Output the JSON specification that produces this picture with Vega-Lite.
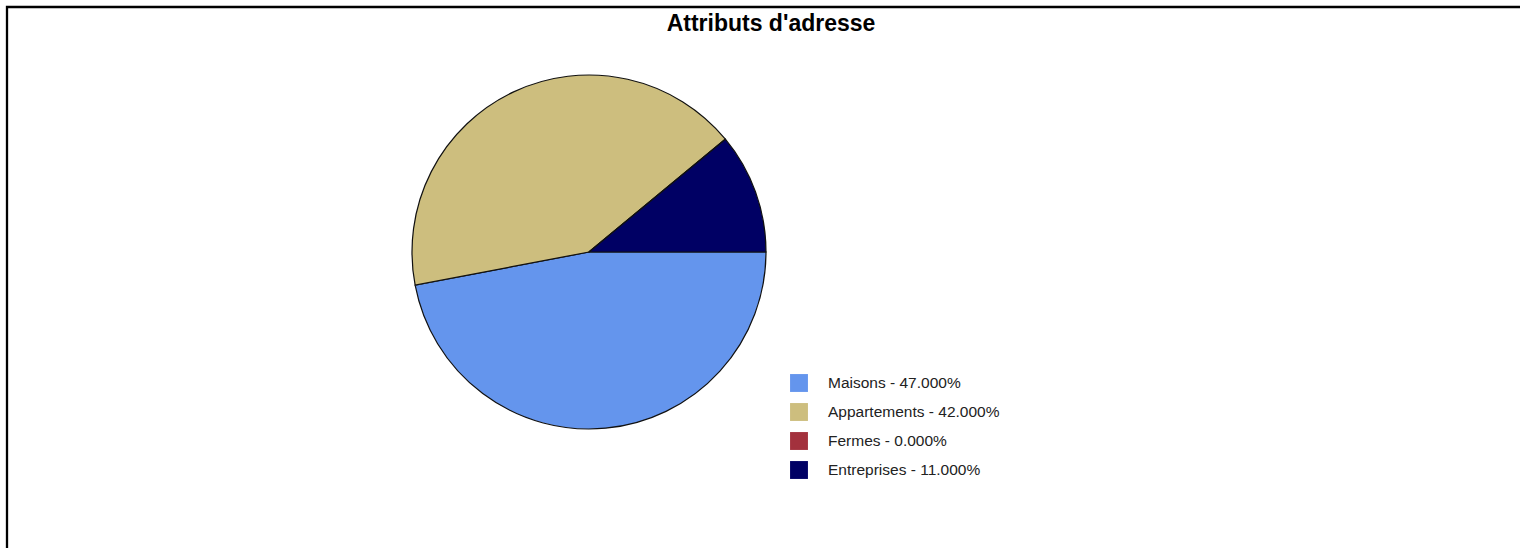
{
  "$schema": "https://vega.github.io/schema/vega-lite/v6.json",
  "autosize": {"type": "fit", "contains": "padding"},
  "width": 1520,
  "height": 548,
  "padding": {"left": 7, "top": 7, "right": -3, "bottom": -3},
  "background": "white",
  "view": {"stroke": "black", "strokeWidth": 2.3, "fill": "white"},
  "title": {
    "text": "Attributs d'adresse",
    "font": "Liberation Sans",
    "fontSize": 23,
    "fontWeight": "bold",
    "color": "black",
    "anchor": "middle",
    "frame": "group",
    "baseline": "top",
    "offset": 0,
    "dy": 29,
    "dx": 6
  },
  "data": {
    "values": [
      {"category": "Maisons", "pct": 47, "label": "Maisons - 47.000%", "order": 1},
      {"category": "Appartements", "pct": 42, "label": "Appartements - 42.000%", "order": 2},
      {"category": "Fermes", "pct": 0, "label": "Fermes - 0.000%", "order": 3},
      {"category": "Entreprises", "pct": 11, "label": "Entreprises - 11.000%", "order": 4}
    ]
  },
  "mark": {
    "type": "arc",
    "x": 582,
    "y": 245,
    "outerRadius": 177,
    "stroke": "#111111",
    "strokeWidth": 1.2
  },
  "encoding": {
    "theta": {
      "field": "pct",
      "type": "quantitative",
      "stack": true,
      "scale": {"range": [1.5707963, 7.8539816]}
    },
    "order": {"field": "order", "type": "quantitative"},
    "color": {
      "field": "label",
      "type": "nominal",
      "scale": {
        "domain": ["Maisons - 47.000%", "Appartements - 42.000%", "Fermes - 0.000%", "Entreprises - 11.000%"],
        "range": ["#6495ED", "#CDBE7E", "#A3313D", "#000064"]
      },
      "legend": {
        "title": null,
        "orient": "none",
        "legendX": 783,
        "legendY": 367,
        "padding": 0,
        "symbolType": "square",
        "symbolSize": 320,
        "symbolStrokeWidth": 0,
        "labelFont": "Liberation Sans",
        "labelFontSize": 15.5,
        "labelColor": "#222222",
        "labelOffset": 20,
        "rowPadding": 11,
        "labelLimit": 400
      }
    }
  }
}
